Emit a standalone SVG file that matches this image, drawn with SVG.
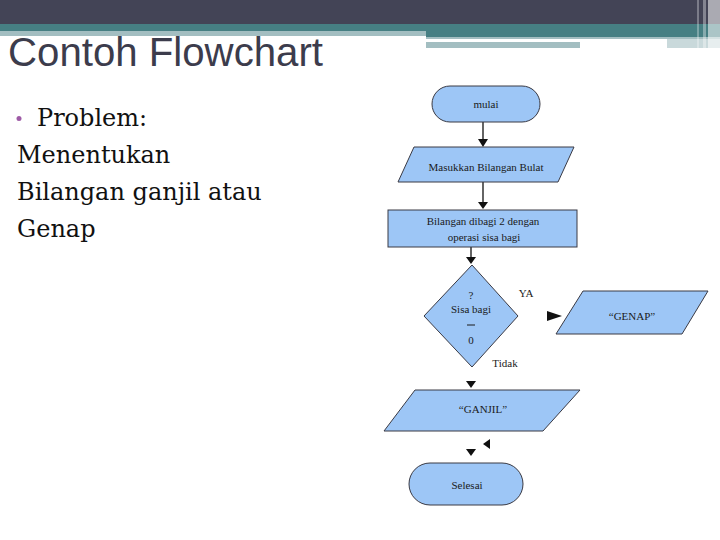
<svg xmlns="http://www.w3.org/2000/svg" width="720" height="540" viewBox="0 0 720 540">
<style>
.shape{fill:#9DC6F6;stroke:#3a3a44;stroke-width:1}
.ft{font-family:"Liberation Serif","Times New Roman",serif;font-size:11px;fill:#1a1a1a;text-anchor:middle}
.body{font-family:"DejaVu Serif",Georgia,serif;font-size:24px;fill:#111}
.conn{stroke:#111;stroke-width:1.3;fill:none}
.head{fill:#111}
</style>
<rect width="720" height="540" fill="#ffffff"/>
<!-- header bars -->
<g id="header">
<rect x="0" y="0" width="720" height="24" fill="#434456"/>
<rect x="0" y="24" width="720" height="8" fill="#467F83"/>
<rect x="0" y="31" width="426" height="5" fill="#A3BEC1"/>
<rect x="426" y="31" width="294" height="7" fill="#467F83"/>
<rect x="426" y="37" width="294" height="2" fill="#A3BEC1"/>
<rect x="426" y="42" width="154" height="6" fill="#A3BEC1"/>
<rect x="667" y="39" width="53" height="9" fill="#C9D9DB"/>
<rect x="697" y="0" width="2" height="48" fill="#ffffff" opacity="0.3"/>
<rect x="703" y="0" width="3" height="48" fill="#ffffff" opacity="0.35"/>
<rect x="708" y="0" width="12" height="48" fill="#ffffff" opacity="0.55"/>
</g>
<text x="8" y="66" font-family="Liberation Sans, Arial, sans-serif" font-size="40" fill="#3C3C4C" textLength="315" lengthAdjust="spacingAndGlyphs">Contoh Flowchart</text>
<g id="bodytext">
<circle cx="19" cy="118.5" r="2.5" fill="#9E5BA6"/>
<text class="body" x="37" y="126">Problem:</text>
<text class="body" x="17" y="163">Menentukan</text>
<text class="body" x="17" y="200">Bilangan ganjil atau</text>
<text class="body" x="17" y="237">Genap</text>
</g>
<g id="connectors">
<line class="conn" x1="483" y1="122" x2="483" y2="139"/>
<polygon class="head" points="478,139 488,139 483,147"/>
<line class="conn" x1="483" y1="182" x2="483" y2="202"/>
<polygon class="head" points="478,202 488,202 483,209"/>
<line class="conn" x1="471" y1="247" x2="471" y2="258"/>
<polygon class="head" points="466,257 476,257 471,264"/>
<polygon class="head" points="547,311 547,321 562,316"/>
<polygon class="head" points="466,381 476,381 471,388"/>
<polygon class="head" points="490,439 490,449 483,444"/>
<polygon class="head" points="466,449 476,449 471,456"/>
</g>
<g id="mulai">
<rect class="shape" x="432" y="86" width="108" height="36" rx="18" ry="18"/>
<text class="ft" x="486" y="108">mulai</text>
</g>
<g id="input">
<polygon class="shape" points="414,147 574,147 558,182 398,182"/>
<text class="ft" x="486" y="171">Masukkan Bilangan Bulat</text>
</g>
<g id="proses">
<rect class="shape" x="388" y="210" width="189" height="37"/>
<text class="ft" x="483" y="225">Bilangan dibagi 2 dengan</text>
<text class="ft" x="484" y="241">operasi sisa bagi</text>
</g>
<g id="keputusan">
<polygon class="shape" points="472,265 518,316 472,367 424,316"/>
<text class="ft" x="471" y="299">?</text>
<text class="ft" x="471" y="313">Sisa bagi</text>
<line x1="467" y1="325" x2="475" y2="325" stroke="#1a1a1a" stroke-width="1"/>
<text class="ft" x="471" y="344">0</text>
</g>
<g id="label-ya">
<text class="ft" x="526" y="297">YA</text>
</g>
<g id="label-tidak">
<text class="ft" x="505" y="367">Tidak</text>
</g>
<g id="genap">
<polygon class="shape" points="583,291 708,291 682,334 556,334"/>
<text class="ft" x="632" y="320">“GENAP”</text>
</g>
<g id="ganjil">
<polygon class="shape" points="415,390 580,390 543,431 384,431"/>
<text class="ft" x="483" y="413">“GANJIL”</text>
</g>
<g id="selesai">
<rect class="shape" x="409" y="463" width="114" height="42" rx="21" ry="21"/>
<text class="ft" x="467" y="489">Selesai</text>
</g>
</svg>
